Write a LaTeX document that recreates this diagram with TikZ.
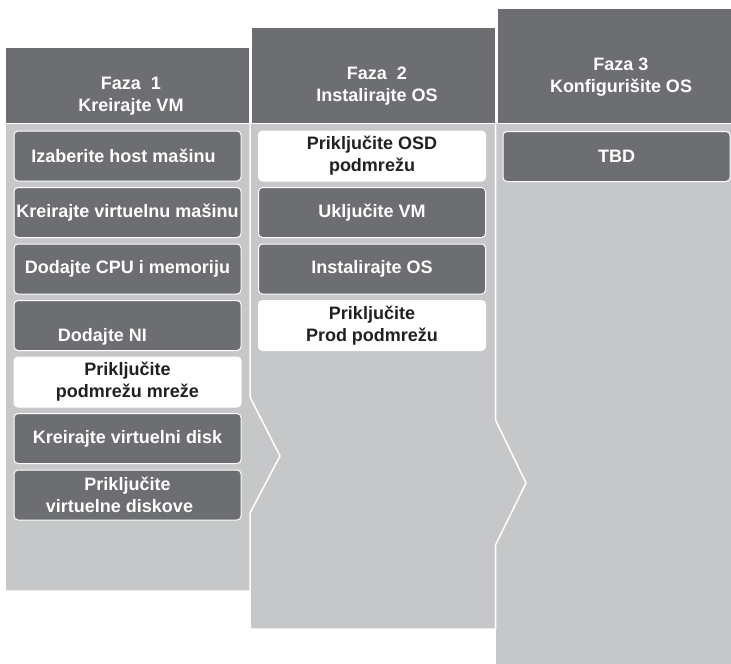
\documentclass[tikz,border=0pt]{standalone}
\usepackage{fontspec}
\setmainfont{Liberation Sans}
\usepackage{xcolor}
\usetikzlibrary{positioning}

\definecolor{phasedark}{HTML}{6D6E71}
\definecolor{phaselight}{HTML}{C6C7C9}
\definecolor{inkblack}{HTML}{231F20}

\begin{document}
\begin{tikzpicture}[
  x=1pt, y=-1pt,
  body/.style={fill=phaselight, draw=white, line width=1.5pt, line join=miter},
  head/.style={rectangle, fill=phasedark, draw=white, line width=1pt, inner sep=0pt, outer sep=0pt},
  headtext/.style={text=white, font=\fontsize{18}{22}\selectfont\bfseries, align=center},
  task/.style={rectangle, rounded corners=4pt, fill=phasedark, draw=white, line width=1pt,
    text=white, font=\fontsize{18}{22}\selectfont\bfseries, align=center,
    minimum width=227pt, minimum height=50pt, inner xsep=0pt, outer sep=0pt},
  subnet/.style={task, fill=white, text=inkblack},
  node distance=6.5pt
]
\useasboundingbox (0,0) rectangle (731,664);

\fill[phaselight] (496,123) rectangle (731,664);
\draw[body] (250,123) -- (495.5,123) -- (495.5,420) -- (526,483) -- (495.5,545)
  -- (495.5,629) -- (250,629) -- cycle;
\draw[body] (5,123) -- (250,123) -- (250,397) -- (280,456) -- (250,513)
  -- (250,591) -- (5,591) -- cycle;

\node[head, minimum width=236pt, minimum height=115pt] (hd3) at (615,65.5) {};
\node[head, minimum width=244pt, minimum height=96pt] (hd2) at (373,75) {};
\node[head, minimum width=244pt, minimum height=76pt] (hd1) at (127,85) {};

\node[headtext] (ph1) at ([xshift=4pt, yshift=-11pt]hd1.center) {Faza\ \ 1\\Kreirajte VM};
\node[headtext] (ph2) at ([xshift=4pt, yshift=-11pt]hd2.center) {Faza\ \ 2\\Instalirajte OS};
\node[headtext] (ph3) at ([xshift=6pt, yshift=-11.5pt]hd3.center) {Faza 3\\Konfigurišite OS};

\node[task] (c1a) at (127.5,156) {Izaberite host mašinu\hspace*{8pt}};
\node[task, below=of c1a] (c1b) {Kreirajte virtuelnu mašinu};
\node[task, below=of c1b] (c1c) {Dodajte CPU i memoriju};
\node[task, below=of c1c] (c1d) {\raisebox{-11pt}[\height][\depth]{Dodajte NI}\hspace*{50pt}};
\node[subnet, below=of c1d] (c1e) {Priključite\\podmrežu mreže};
\node[task, below=of c1e] (c1f) {Kreirajte virtuelni disk};
\node[task, below=of c1f] (c1g) {Priključite\\virtuelne diskove\hspace*{16pt}};

\node[subnet] (c2a) at (372,156) {Priključite OSD\\podmrežu};
\node[task, below=of c2a] (c2b) {Uključite VM};
\node[task, below=of c2b] (c2c) {Instalirajte OS};
\node[subnet, below=of c2c] (c2d) {Priključite\\Prod podmrežu};

\node[task] (c3a) at (616.5,156.5) {TBD};
\end{tikzpicture}
\end{document}
